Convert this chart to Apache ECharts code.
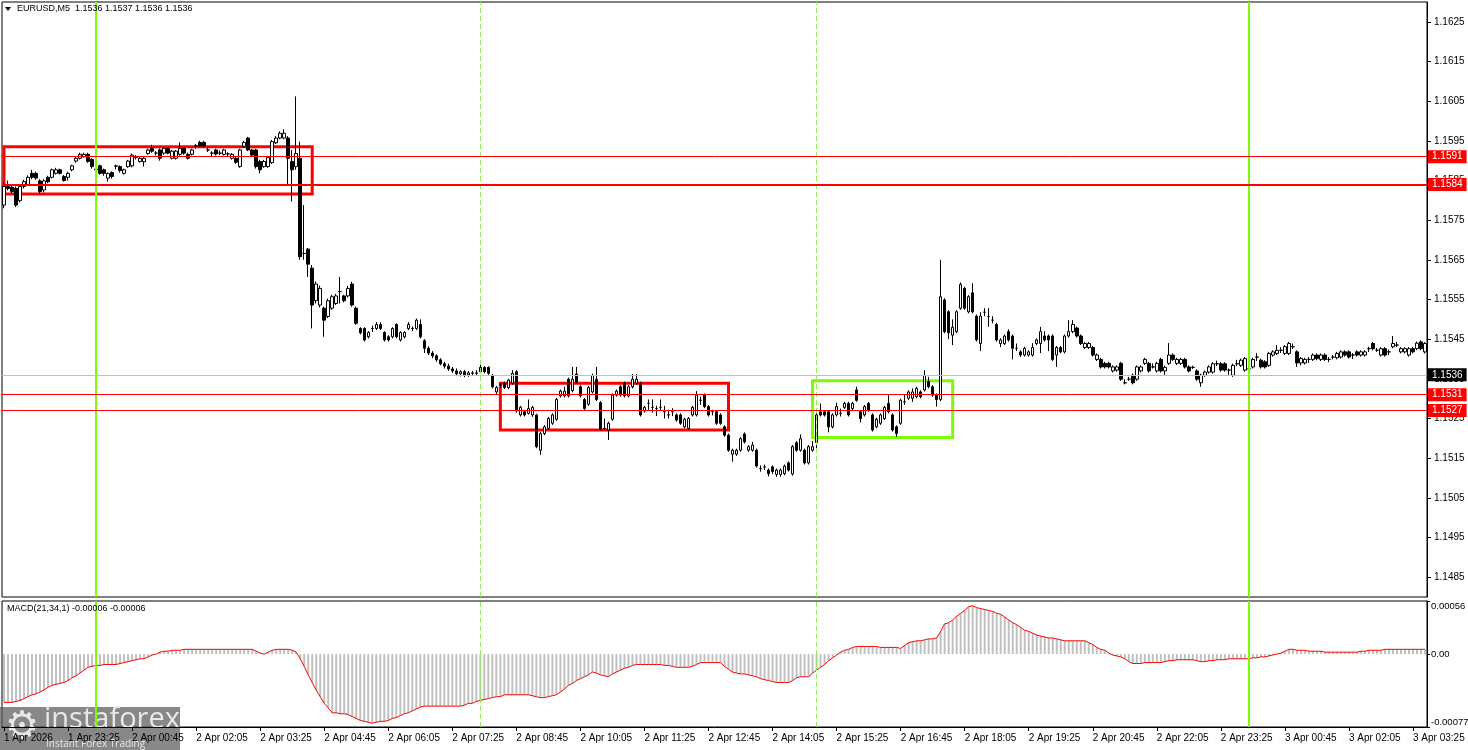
<!DOCTYPE html>
<html><head><meta charset="utf-8">
<script src="https://cdn.jsdelivr.net/npm/echarts@6/dist/echarts.min.js"></script>
<style>html,body{margin:0;padding:0;background:#fff}#c{width:1468px;height:750px}</style>
</head><body><div id="c"></div>
<script>
const symbolTitle = "EURUSD,M5  1.1536 1.1537 1.1536 1.1536";
const macdTitle = "MACD(21,34,1) -0.00006 -0.00006";
const tickLabels = ["1 Apr 2026","1 Apr 23:25","2 Apr 00:45","2 Apr 02:05","2 Apr 03:25","2 Apr 04:45","2 Apr 06:05","2 Apr 07:25","2 Apr 08:45","2 Apr 10:05","2 Apr 11:25","2 Apr 12:45","2 Apr 14:05","2 Apr 15:25","2 Apr 16:45","2 Apr 18:05","2 Apr 19:25","2 Apr 20:45","2 Apr 22:05","2 Apr 23:25","3 Apr 00:45","3 Apr 02:05","3 Apr 03:25"];
const priceTicks = [1.1485,1.1495,1.1505,1.1515,1.1525,1.1535,1.1545,1.1555,1.1565,1.1575,1.1585,1.1595,1.1605,1.1615,1.1625];
const macdTicks = [-0.00077, 0, 0.00056];
const macdTickLabels = ["-0.00077", "0.00", "0.00056"];
const redLevels = [1.1591, 1.1584, 1.1531, 1.1527];
const redLevelWidths = [1, 2, 1, 1];
const bidLevel = 1.1536;
// [startBar, endBar, top, bottom]
const redBoxes = [[0, 77, 1.15935, 1.15816], [124, 181, 1.15339, 1.15221]];
const greenBoxes = [[202, 237, 1.15345, 1.15202]];
const solidVBars = [23, 311];
const dashedVBars = [119, 203];
// [open, close, low, high]
const candles = [
[1.15788,1.15835,1.15780,1.15845],[1.15835,1.15830,1.15825,1.15850],[1.15833,1.15822,1.15818,1.15838],[1.15830,1.15788,1.15783,1.15835],
[1.15799,1.15835,1.15795,1.15840],[1.15835,1.15847,1.15830,1.15852],[1.15840,1.15858,1.15836,1.15863],[1.15868,1.15858,1.15853,1.15877],
[1.15868,1.15856,1.15852,1.15872],[1.15849,1.15822,1.15815,1.15853],[1.15826,1.15849,1.15820,1.15853],[1.15858,1.15847,1.15843,1.15862],
[1.15858,1.15877,1.15855,1.15880],[1.15868,1.15877,1.15865,1.15882],[1.15877,1.15868,1.15865,1.15880],[1.15860,1.15850,1.15847,1.15864],
[1.15858,1.15868,1.15850,1.15872],[1.15877,1.15887,1.15873,1.15890],[1.15899,1.15906,1.15895,1.15910],[1.15906,1.15916,1.15903,1.15920],
[1.15910,1.15916,1.15908,1.15920],[1.15916,1.15898,1.15895,1.15920],[1.15903,1.15885,1.15880,1.15906],[1.15879,1.15877,1.15870,1.15885],
[1.15887,1.15868,1.15865,1.15890],[1.15877,1.15868,1.15862,1.15880],[1.15856,1.15868,1.15847,1.15870],[1.15870,1.15860,1.15855,1.15873],
[1.15886,1.15887,1.15878,1.15890],[1.15885,1.15875,1.15870,1.15888],[1.15868,1.15877,1.15865,1.15880],[1.15885,1.15899,1.15882,1.15902],
[1.15887,1.15914,1.15883,1.15918],[1.15908,1.15908,1.15903,1.15914],[1.15898,1.15906,1.15895,1.15910],[1.15897,1.15906,1.15885,1.15910],
[1.15918,1.15927,1.15915,1.15930],[1.15931,1.15924,1.15920,1.15940],[1.15919,1.15919,1.15913,1.15924],[1.15927,1.15906,1.15900,1.15931],
[1.15919,1.15931,1.15915,1.15935],[1.15931,1.15919,1.15916,1.15934],[1.15906,1.15924,1.15903,1.15927],[1.15906,1.15924,1.15903,1.15927],
[1.15916,1.15931,1.15913,1.15946],[1.15931,1.15919,1.15915,1.15934],[1.15916,1.15906,1.15903,1.15920],[1.15916,1.15927,1.15913,1.15930],
[1.15937,1.15937,1.15930,1.15942],[1.15946,1.15937,1.15934,1.15950],[1.15946,1.15937,1.15933,1.15950],[1.15927,1.15927,1.15922,1.15932],
[1.15919,1.15919,1.15910,1.15924],[1.15927,1.15917,1.15913,1.15930],[1.15919,1.15919,1.15914,1.15926],[1.15916,1.15927,1.15913,1.15930],
[1.15917,1.15917,1.15910,1.15921],[1.15906,1.15916,1.15903,1.15919],[1.15906,1.15896,1.15892,1.15909],[1.15885,1.15927,1.15882,1.15930],
[1.15936,1.15946,1.15932,1.15950],[1.15957,1.15927,1.15924,1.15960],[1.15927,1.15914,1.15910,1.15930],[1.15927,1.15885,1.15880,1.15930],
[1.15898,1.15877,1.15868,1.15902],[1.15885,1.15898,1.15882,1.15902],[1.15885,1.15908,1.15882,1.15912],[1.15895,1.15948,1.15892,1.15952],
[1.15945,1.15957,1.15942,1.15962],[1.15957,1.15969,1.15954,1.15974],[1.15957,1.15969,1.15954,1.15979],[1.15957,1.15906,1.15839,1.15962],
[1.15898,1.15877,1.15797,1.15927],[1.15885,1.15918,1.15877,1.16062],[1.15906,1.15658,1.15650,1.15948],[1.15666,1.15666,1.15650,1.15788],
[1.15677,1.15639,1.15607,1.15680],[1.15629,1.15536,1.15477,1.15637],[1.15547,1.15589,1.15540,1.15595],[1.15536,1.15578,1.15530,1.15585],
[1.15528,1.15498,1.15456,1.15532],[1.15507,1.15547,1.15503,1.15552],[1.15528,1.15557,1.15524,1.15562],[1.15540,1.15559,1.15536,1.15564],
[1.15570,1.15570,1.15540,1.15607],[1.15559,1.15547,1.15543,1.15562],[1.15559,1.15578,1.15555,1.15584],[1.15589,1.15536,1.15532,1.15595],
[1.15528,1.15490,1.15486,1.15532],[1.15477,1.15466,1.15462,1.15480],[1.15477,1.15448,1.15444,1.15480],[1.15456,1.15467,1.15452,1.15470],
[1.15477,1.15477,1.15468,1.15484],[1.15477,1.15487,1.15473,1.15493],[1.15487,1.15477,1.15473,1.15493],[1.15467,1.15448,1.15444,1.15470],
[1.15456,1.15448,1.15444,1.15460],[1.15456,1.15477,1.15452,1.15480],[1.15487,1.15456,1.15452,1.15490],[1.15448,1.15467,1.15444,1.15470],
[1.15456,1.15467,1.15452,1.15470],[1.15477,1.15487,1.15473,1.15493],[1.15477,1.15477,1.15470,1.15482],[1.15477,1.15498,1.15473,1.15502],
[1.15487,1.15456,1.15452,1.15500],[1.15446,1.15427,1.15415,1.15450],[1.15427,1.15415,1.15410,1.15432],[1.15415,1.15408,1.15402,1.15420],
[1.15408,1.15398,1.15393,1.15412],[1.15398,1.15388,1.15384,1.15402],[1.15388,1.15382,1.15376,1.15393],[1.15382,1.15375,1.15370,1.15388],
[1.15375,1.15370,1.15365,1.15380],[1.15370,1.15363,1.15358,1.15376],[1.15363,1.15368,1.15356,1.15372],[1.15368,1.15360,1.15354,1.15372],
[1.15360,1.15365,1.15355,1.15370],[1.15365,1.15364,1.15358,1.15370],[1.15364,1.15365,1.15360,1.15372],[1.15379,1.15368,1.15364,1.15389],
[1.15379,1.15368,1.15364,1.15382],[1.15379,1.15364,1.15360,1.15382],[1.15359,1.15330,1.15326,1.15362],[1.15317,1.15328,1.15312,1.15332],
[1.15334,1.15334,1.15328,1.15340],[1.15339,1.15328,1.15324,1.15343],[1.15328,1.15347,1.15324,1.15350],[1.15339,1.15364,1.15335,1.15372],
[1.15368,1.15269,1.15265,1.15372],[1.15259,1.15278,1.15255,1.15282],[1.15267,1.15259,1.15255,1.15272],[1.15263,1.15275,1.15260,1.15298],
[1.15259,1.15278,1.15254,1.15282],[1.15259,1.15179,1.15175,1.15262],[1.15170,1.15212,1.15158,1.15216],[1.15212,1.15229,1.15208,1.15233],
[1.15225,1.15250,1.15221,1.15254],[1.15238,1.15259,1.15234,1.15263],[1.15248,1.15298,1.15244,1.15302],[1.15307,1.15319,1.15303,1.15323],
[1.15307,1.15319,1.15303,1.15330],[1.15349,1.15307,1.15303,1.15353],[1.15320,1.15349,1.15316,1.15380],[1.15362,1.15342,1.15338,1.15380],
[1.15330,1.15307,1.15303,1.15334],[1.15298,1.15275,1.15271,1.15302],[1.15286,1.15328,1.15282,1.15332],[1.15317,1.15359,1.15313,1.15363],
[1.15349,1.15298,1.15294,1.15380],[1.15290,1.15223,1.15219,1.15294],[1.15225,1.15225,1.15221,1.15250],[1.15221,1.15238,1.15196,1.15242],
[1.15248,1.15309,1.15244,1.15313],[1.15309,1.15319,1.15305,1.15323],[1.15330,1.15309,1.15305,1.15334],[1.15339,1.15307,1.15303,1.15343],
[1.15307,1.15330,1.15303,1.15334],[1.15330,1.15349,1.15326,1.15362],[1.15339,1.15349,1.15335,1.15362],[1.15339,1.15259,1.15255,1.15343],
[1.15269,1.15278,1.15265,1.15282],[1.15288,1.15288,1.15272,1.15298],[1.15278,1.15278,1.15265,1.15298],[1.15275,1.15275,1.15256,1.15282],
[1.15278,1.15278,1.15270,1.15298],[1.15267,1.15267,1.15250,1.15282],[1.15259,1.15259,1.15250,1.15272],[1.15267,1.15267,1.15256,1.15276],
[1.15259,1.15246,1.15242,1.15263],[1.15259,1.15238,1.15234,1.15263],[1.15229,1.15248,1.15225,1.15252],[1.15225,1.15250,1.15221,1.15254],
[1.15259,1.15278,1.15255,1.15282],[1.15259,1.15309,1.15255,1.15319],[1.15296,1.15296,1.15284,1.15305],[1.15309,1.15280,1.15276,1.15313],
[1.15280,1.15259,1.15255,1.15284],[1.15267,1.15267,1.15258,1.15272],[1.15267,1.15238,1.15234,1.15271],[1.15259,1.15238,1.15234,1.15263],
[1.15229,1.15208,1.15204,1.15233],[1.15208,1.15170,1.15166,1.15212],[1.15160,1.15170,1.15141,1.15174],[1.15160,1.15170,1.15156,1.15174],
[1.15170,1.15199,1.15166,1.15203],[1.15211,1.15191,1.15187,1.15215],[1.15170,1.15179,1.15166,1.15183],[1.15170,1.15183,1.15166,1.15191],
[1.15170,1.15130,1.15126,1.15174],[1.15124,1.15124,1.15116,1.15132],[1.15128,1.15128,1.15120,1.15134],[1.15120,1.15111,1.15104,1.15124],
[1.15128,1.15116,1.15110,1.15132],[1.15109,1.15120,1.15103,1.15124],[1.15109,1.15120,1.15103,1.15124],[1.15111,1.15130,1.15107,1.15134],
[1.15138,1.15120,1.15116,1.15142],[1.15110,1.15179,1.15106,1.15183],[1.15189,1.15170,1.15166,1.15193],[1.15170,1.15199,1.15166,1.15210],
[1.15170,1.15138,1.15134,1.15174],[1.15138,1.15179,1.15134,1.15183],[1.15170,1.15179,1.15166,1.15193],[1.15189,1.15259,1.15170,1.15263],
[1.15267,1.15259,1.15255,1.15288],[1.15267,1.15259,1.15255,1.15271],[1.15267,1.15229,1.15215,1.15271],[1.15229,1.15259,1.15225,1.15263],
[1.15259,1.15280,1.15255,1.15290],[1.15263,1.15263,1.15255,1.15275],[1.15278,1.15288,1.15274,1.15292],[1.15288,1.15259,1.15255,1.15292],
[1.15275,1.15288,1.15271,1.15292],[1.15322,1.15296,1.15292,1.15330],[1.15267,1.15250,1.15240,1.15271],[1.15259,1.15280,1.15255,1.15284],
[1.15288,1.15271,1.15267,1.15292],[1.15259,1.15221,1.15217,1.15263],[1.15229,1.15248,1.15225,1.15252],[1.15238,1.15259,1.15234,1.15263],
[1.15250,1.15278,1.15246,1.15282],[1.15288,1.15267,1.15263,1.15309],[1.15259,1.15221,1.15217,1.15263],[1.15229,1.15212,1.15204,1.15233],
[1.15238,1.15296,1.15234,1.15300],[1.15292,1.15292,1.15284,1.15310],[1.15301,1.15317,1.15297,1.15321],[1.15301,1.15317,1.15292,1.15326],
[1.15305,1.15326,1.15301,1.15330],[1.15317,1.15305,1.15301,1.15321],[1.15322,1.15359,1.15318,1.15372],[1.15343,1.15330,1.15326,1.15355],
[1.15330,1.15309,1.15305,1.15334],[1.15309,1.15298,1.15280,1.15313],[1.15298,1.15557,1.15294,1.15650],[1.15549,1.15469,1.15465,1.15553],
[1.15519,1.15466,1.15450,1.15523],[1.15460,1.15480,1.15435,1.15500],[1.15469,1.15519,1.15465,1.15523],[1.15528,1.15588,1.15524,1.15593],
[1.15578,1.15528,1.15524,1.15582],[1.15519,1.15557,1.15515,1.15561],[1.15567,1.15519,1.15515,1.15591],[1.15508,1.15448,1.15444,1.15512],
[1.15439,1.15508,1.15420,1.15518],[1.15518,1.15518,1.15508,1.15528],[1.15507,1.15507,1.15481,1.15528],[1.15498,1.15498,1.15490,1.15508],
[1.15487,1.15448,1.15444,1.15491],[1.15439,1.15448,1.15430,1.15452],[1.15439,1.15458,1.15435,1.15462],[1.15469,1.15448,1.15444,1.15475],
[1.15458,1.15427,1.15399,1.15462],[1.15427,1.15427,1.15420,1.15439],[1.15418,1.15410,1.15405,1.15422],[1.15410,1.15427,1.15406,1.15431],
[1.15410,1.15418,1.15406,1.15422],[1.15410,1.15429,1.15406,1.15440],[1.15439,1.15448,1.15435,1.15452],[1.15439,1.15469,1.15415,1.15481],
[1.15458,1.15448,1.15444,1.15470],[1.15458,1.15448,1.15420,1.15462],[1.15458,1.15399,1.15395,1.15462],[1.15410,1.15429,1.15380,1.15433],
[1.15429,1.15418,1.15414,1.15433],[1.15418,1.15458,1.15414,1.15462],[1.15458,1.15469,1.15454,1.15498],[1.15469,1.15487,1.15465,1.15498],
[1.15478,1.15458,1.15454,1.15482],[1.15458,1.15439,1.15435,1.15462],[1.15429,1.15439,1.15425,1.15443],[1.15429,1.15439,1.15425,1.15443],
[1.15429,1.15410,1.15406,1.15433],[1.15399,1.15410,1.15395,1.15414],[1.15399,1.15380,1.15376,1.15403],[1.15389,1.15380,1.15376,1.15393],
[1.15389,1.15380,1.15376,1.15393],[1.15370,1.15380,1.15366,1.15384],[1.15372,1.15380,1.15368,1.15384],[1.15389,1.15349,1.15345,1.15393],
[1.15340,1.15340,1.15336,1.15349],[1.15349,1.15349,1.15345,1.15355],[1.15359,1.15340,1.15336,1.15363],[1.15349,1.15380,1.15345,1.15384],
[1.15370,1.15380,1.15366,1.15384],[1.15389,1.15399,1.15385,1.15403],[1.15389,1.15370,1.15366,1.15393],[1.15380,1.15380,1.15376,1.15389],
[1.15370,1.15389,1.15366,1.15393],[1.15399,1.15370,1.15366,1.15403],[1.15370,1.15379,1.15360,1.15383],[1.15389,1.15410,1.15385,1.15440],
[1.15410,1.15399,1.15395,1.15414],[1.15389,1.15399,1.15385,1.15403],[1.15389,1.15399,1.15385,1.15403],[1.15399,1.15380,1.15376,1.15403],
[1.15380,1.15370,1.15366,1.15384],[1.15379,1.15379,1.15375,1.15383],[1.15370,1.15349,1.15345,1.15374],[1.15340,1.15359,1.15330,1.15363],
[1.15359,1.15367,1.15355,1.15371],[1.15367,1.15380,1.15363,1.15384],[1.15367,1.15388,1.15363,1.15392],[1.15388,1.15388,1.15382,1.15396],
[1.15388,1.15372,1.15368,1.15392],[1.15388,1.15372,1.15368,1.15392],[1.15372,1.15372,1.15360,1.15376],[1.15359,1.15384,1.15355,1.15388],
[1.15388,1.15388,1.15382,1.15398],[1.15384,1.15397,1.15380,1.15401],[1.15372,1.15401,1.15368,1.15405],[1.15375,1.15375,1.15370,1.15380],
[1.15380,1.15399,1.15376,1.15403],[1.15405,1.15405,1.15395,1.15415],[1.15397,1.15380,1.15376,1.15401],[1.15393,1.15380,1.15376,1.15397],
[1.15384,1.15414,1.15380,1.15418],[1.15410,1.15418,1.15406,1.15422],[1.15414,1.15422,1.15410,1.15435],[1.15422,1.15422,1.15415,1.15430],
[1.15414,1.15431,1.15410,1.15435],[1.15414,1.15439,1.15410,1.15443],[1.15431,1.15431,1.15425,1.15439],[1.15418,1.15390,1.15380,1.15422],
[1.15390,1.15401,1.15384,1.15405],[1.15390,1.15399,1.15386,1.15403],[1.15399,1.15399,1.15390,1.15405],[1.15399,1.15410,1.15395,1.15414],
[1.15410,1.15401,1.15397,1.15414],[1.15399,1.15410,1.15395,1.15414],[1.15410,1.15399,1.15395,1.15414],[1.15399,1.15399,1.15392,1.15405],
[1.15405,1.15405,1.15399,1.15410],[1.15403,1.15414,1.15399,1.15418],[1.15405,1.15418,1.15401,1.15422],[1.15418,1.15410,1.15406,1.15422],
[1.15418,1.15405,1.15401,1.15422],[1.15410,1.15410,1.15400,1.15415],[1.15418,1.15410,1.15406,1.15422],[1.15410,1.15418,1.15406,1.15422],
[1.15410,1.15418,1.15406,1.15422],[1.15426,1.15426,1.15418,1.15431],[1.15439,1.15426,1.15422,1.15443],[1.15422,1.15422,1.15418,1.15428],
[1.15410,1.15426,1.15406,1.15430],[1.15426,1.15410,1.15406,1.15430],[1.15418,1.15418,1.15410,1.15424],[1.15431,1.15439,1.15427,1.15458],
[1.15435,1.15435,1.15430,1.15443],[1.15418,1.15426,1.15414,1.15430],[1.15418,1.15426,1.15414,1.15430],[1.15410,1.15426,1.15406,1.15430],
[1.15426,1.15418,1.15414,1.15430],[1.15426,1.15440,1.15422,1.15444],[1.15443,1.15426,1.15422,1.15447],[1.15418,1.15439,1.15414,1.15443]
];
const macd = [
-0.00051,-0.00051,-0.00051,-0.00050,-0.00049,-0.00047,-0.00045,-0.00043,-0.00042,-0.00040,
-0.00038,-0.00035,-0.00033,-0.00032,-0.00031,-0.00030,-0.00028,-0.00025,-0.00023,-0.00020,
-0.00017,-0.00014,-0.00013,-0.00012,-0.00012,-0.00011,-0.00011,-0.00011,-0.00011,-0.00010,
-0.00009,-0.00008,-0.00007,-0.00006,-0.00005,-0.00005,-0.00003,-0.00001,0.00000,0.00002,
0.00003,0.00003,0.00004,0.00004,0.00004,0.00005,0.00005,0.00005,0.00005,0.00005,
0.00005,0.00005,0.00005,0.00005,0.00005,0.00005,0.00005,0.00005,0.00005,0.00005,
0.00005,0.00005,0.00005,0.00003,0.00001,0.00000,0.00002,0.00004,0.00005,0.00005,
0.00005,0.00005,0.00004,0.00002,-0.00005,-0.00013,-0.00022,-0.00030,-0.00038,-0.00045,
-0.00052,-0.00057,-0.00062,-0.00062,-0.00063,-0.00063,-0.00064,-0.00066,-0.00068,-0.00070,
-0.00071,-0.00072,-0.00073,-0.00072,-0.00071,-0.00071,-0.00070,-0.00068,-0.00067,-0.00065,
-0.00063,-0.00062,-0.00060,-0.00058,-0.00056,-0.00055,-0.00055,-0.00055,-0.00055,-0.00055,
-0.00055,-0.00055,-0.00055,-0.00055,-0.00055,-0.00054,-0.00052,-0.00052,-0.00050,-0.00049,
-0.00048,-0.00047,-0.00046,-0.00045,-0.00045,-0.00043,-0.00043,-0.00043,-0.00043,-0.00043,
-0.00043,-0.00043,-0.00044,-0.00045,-0.00046,-0.00046,-0.00045,-0.00044,-0.00043,-0.00040,
-0.00037,-0.00033,-0.00031,-0.00028,-0.00026,-0.00024,-0.00022,-0.00019,-0.00020,-0.00022,
-0.00023,-0.00024,-0.00021,-0.00019,-0.00017,-0.00015,-0.00014,-0.00012,-0.00011,-0.00011,
-0.00011,-0.00011,-0.00011,-0.00011,-0.00011,-0.00012,-0.00012,-0.00013,-0.00014,-0.00014,
-0.00014,-0.00014,-0.00013,-0.00011,-0.00009,-0.00009,-0.00009,-0.00009,-0.00009,-0.00009,
-0.00013,-0.00016,-0.00019,-0.00020,-0.00021,-0.00021,-0.00022,-0.00023,-0.00024,-0.00026,
-0.00027,-0.00028,-0.00029,-0.00030,-0.00030,-0.00030,-0.00030,-0.00028,-0.00025,-0.00024,
-0.00024,-0.00024,-0.00020,-0.00017,-0.00014,-0.00011,-0.00007,-0.00004,-0.00001,0.00002,
0.00004,0.00005,0.00007,0.00008,0.00008,0.00008,0.00008,0.00008,0.00008,0.00007,
0.00007,0.00007,0.00007,0.00007,0.00006,0.00009,0.00012,0.00013,0.00014,0.00014,
0.00015,0.00016,0.00016,0.00017,0.00024,0.00032,0.00033,0.00036,0.00040,0.00043,
0.00046,0.00050,0.00051,0.00049,0.00048,0.00047,0.00046,0.00045,0.00043,0.00042,
0.00039,0.00036,0.00033,0.00031,0.00028,0.00025,0.00024,0.00022,0.00020,0.00019,
0.00018,0.00017,0.00017,0.00016,0.00015,0.00014,0.00014,0.00014,0.00014,0.00014,
0.00014,0.00012,0.00010,0.00007,0.00005,0.00004,0.00001,-0.00001,-0.00002,-0.00003,
-0.00005,-0.00008,-0.00010,-0.00010,-0.00010,-0.00009,-0.00009,-0.00009,-0.00009,-0.00009,
-0.00008,-0.00007,-0.00007,-0.00006,-0.00006,-0.00006,-0.00006,-0.00006,-0.00007,-0.00008,
-0.00008,-0.00007,-0.00007,-0.00006,-0.00006,-0.00006,-0.00005,-0.00005,-0.00005,-0.00005,
-0.00005,-0.00005,-0.00004,-0.00004,-0.00003,-0.00003,-0.00002,-0.00001,0.00000,0.00001,
0.00003,0.00005,0.00005,0.00004,0.00004,0.00004,0.00003,0.00003,0.00003,0.00003,
0.00002,0.00002,0.00002,0.00002,0.00002,0.00002,0.00002,0.00002,0.00002,0.00003,
0.00003,0.00004,0.00004,0.00004,0.00004,0.00005,0.00005,0.00005,0.00005,0.00005,
0.00005,0.00005,0.00005,0.00005,0.00005,0.00005
];

const FONT = 'Liberation Sans';
const LIME = '#7CFC00';
const DASH = '#96E85C';
const categories = [];
const t0 = Date.UTC(2026, 3, 1, 22, 5);
for (let i = 0; i < candles.length; i++) {
  const d = new Date(t0 + i * 300000);
  categories.push(d.getUTCDate() + ' Apr ' + String(d.getUTCHours()).padStart(2, '0') + ':' + String(d.getUTCMinutes()).padStart(2, '0'));
}

const vLineData = solidVBars.map(b => ({xAxis: categories[b], lineStyle: {color: LIME, width: 2, type: 'solid'}}))
  .concat(dashedVBars.map(b => ({xAxis: categories[b], lineStyle: {color: DASH, width: 1, type: [5, 3]}})));

const levelLine = (v, color, width, bg) => ({
  yAxis: v,
  lineStyle: {color: color, width: width, type: 'solid'},
  label: {show: true, position: 'end', distance: 1, formatter: v.toFixed(4), color: '#fff', backgroundColor: bg,
    padding: [2, 4, 1, 4], fontFamily: FONT, fontSize: 10}
});
const hLineData = [levelLine(bidLevel, '#C0C0C0', 1, '#000')]
  .concat(redLevels.map((v, k) => levelLine(v, '#FF0000', redLevelWidths[k], '#FF0000')));

const boxData = redBoxes.map(b => [
  {xAxis: categories[b[0]], yAxis: b[2], itemStyle: {color: 'rgba(0,0,0,0)', borderColor: '#FF0000', borderWidth: 3}},
  {xAxis: categories[b[1]], yAxis: b[3]}
]).concat(greenBoxes.map(b => [
  {xAxis: categories[b[0]], yAxis: b[2], itemStyle: {color: 'rgba(0,0,0,0)', borderColor: LIME, borderWidth: 3}},
  {xAxis: categories[b[1]], yAxis: b[3]}
]));

const chart = echarts.init(document.getElementById('c'), null, {renderer: 'canvas'});
const txt = {color: '#000', fontFamily: FONT, fontSize: 10};
chart.setOption({
  animation: false,
  backgroundColor: '#fff',
  grid: [
    {left: 2, right: 41, top: 2, height: 595, show: true, borderColor: '#000', borderWidth: 1, backgroundColor: 'transparent', containLabel: false, outerBoundsMode: 'none'},
    {left: 2, right: 41, top: 601, height: 126, show: true, borderColor: '#000', borderWidth: 1, backgroundColor: 'transparent', containLabel: false, outerBoundsMode: 'none'}
  ],
  xAxis: [
    {type: 'category', gridIndex: 0, data: categories, boundaryGap: true, show: false},
    {type: 'category', gridIndex: 1, data: categories, boundaryGap: true,
      axisLine: {show: true, onZero: false, lineStyle: {color: '#000'}},
      axisTick: {show: true, interval: i => i % 16 === 0, length: 4, lineStyle: {color: '#000'}, alignWithLabel: true},
      axisLabel: Object.assign({interval: i => i % 16 === 0, formatter: (v, i) => tickLabels[i / 16] || '', align: 'left', margin: 6}, txt)}
  ],
  yAxis: [
    {type: 'value', gridIndex: 0, position: 'right', min: 1.148, max: 1.163, splitLine: {show: false},
      axisLine: {show: true, lineStyle: {color: '#000'}},
      axisTick: {show: true, customValues: priceTicks, length: 4, lineStyle: {color: '#000'}},
      axisLabel: Object.assign({customValues: priceTicks, formatter: v => v.toFixed(4), margin: 7}, txt)},
    {type: 'value', gridIndex: 1, position: 'right', min: -0.00077, max: 0.00056, splitLine: {show: false},
      axisLine: {show: true, lineStyle: {color: '#000'}},
      axisTick: {show: true, customValues: macdTicks, length: 3, lineStyle: {color: '#000'}},
      axisLabel: Object.assign({}, txt, {customValues: macdTicks, margin: 4, fontSize: 9.5,
        verticalAlignMinLabel: 'bottom', verticalAlignMaxLabel: 'top',
        formatter: v => { let k = macdTicks.findIndex(t => Math.abs(t - v) < 1e-9); return k >= 0 ? macdTickLabels[k] : ''; }})}
  ],
  series: [
    {type: 'candlestick', xAxisIndex: 0, yAxisIndex: 0, data: candles, barWidth: 3,
      itemStyle: {color: '#fff', color0: '#000', borderColor: '#000', borderColor0: '#000', borderWidth: 1},
      markLine: {silent: true, precision: 5, symbol: ['none', 'none'], animation: false, label: {show: false}, data: vLineData.concat(hLineData)},
      markArea: {silent: true, precision: 5, animation: false, data: boxData}
    },
    {type: 'bar', xAxisIndex: 1, yAxisIndex: 1, data: macd, barWidth: 2, itemStyle: {color: '#C0C0C0'},
      markLine: {silent: true, symbol: ['none', 'none'], animation: false, label: {show: false}, data: vLineData}},
    {type: 'line', xAxisIndex: 1, yAxisIndex: 1, data: macd, showSymbol: false, symbol: 'none',
      lineStyle: {color: '#FF0000', width: 1}}
  ],
  graphic: [
    {type: 'polygon', z: 100, shape: {points: [[5, 7], [11, 7], [8, 11]]}, style: {fill: '#000'}},
    {type: 'text', z: 100, left: 17, top: 4, style: {text: symbolTitle, fill: '#000', font: '9px "Liberation Sans"'}},
    {type: 'text', z: 100, left: 7, top: 604, style: {text: macdTitle, fill: '#000', font: '9px "Liberation Sans"'}},
    {type: 'group', z: 100, left: 0, top: 705, children: [
      {type: 'rect', shape: {x: 0, y: 0, width: 180, height: 45}, style: {fill: 'rgba(90,90,90,0.72)'}},
      {type: 'text', x: 5, y: 2, style: {text: '\u2699', fill: '#e8e8e8', font: '38px "DejaVu Sans"'}},
      {type: 'text', x: 44, y: -2, style: {text: 'instaforex', fill: '#e8e8e8', font: '29px "Open Sans"'}},
      {type: 'text', x: 46, y: 32, style: {text: 'Instant Forex Trading', fill: '#e8e8e8', font: '10px "Open Sans"'}}
    ]}
  ]
});
</script></body></html>
